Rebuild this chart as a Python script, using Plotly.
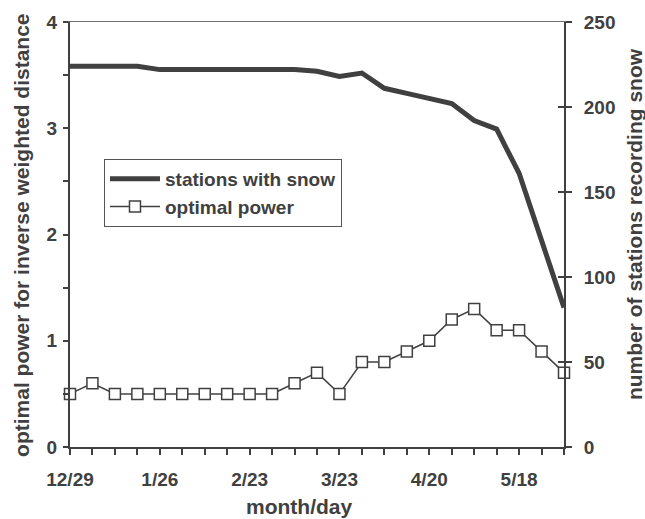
import plotly.graph_objects as go

dates = ["12/29", "1/5", "1/12", "1/19", "1/26", "2/2", "2/9", "2/16", "2/23",
         "3/2", "3/9", "3/16", "3/23", "3/30", "4/6", "4/13", "4/20", "4/27",
         "5/4", "5/11", "5/18", "5/25", "6/1"]
stations_with_snow = [224, 224, 224, 224, 222, 222, 222, 222, 222, 222, 222, 221,
                      218, 220, 211, 208, 205, 202, 192, 187, 161, 121, 82]
optimal_power = [0.5, 0.6, 0.5, 0.5, 0.5, 0.5, 0.5, 0.5, 0.5, 0.5, 0.6, 0.7,
                 0.5, 0.8, 0.8, 0.9, 1.0, 1.2, 1.3, 1.1, 1.1, 0.9, 0.7]
x_labels = ["12/29", "1/26", "2/23", "3/23", "4/20", "5/18"]
left_ticks = [0, 0.5, 1, 1.5, 2, 2.5, 3, 3.5, 4]
left_labels = ["0", "", "1", "", "2", "", "3", "", "4"]
right_ticks = [0, 50, 100, 150, 200, 250]

C = "#404040"
FONT = "Liberation Sans, Arial, sans-serif"

fig = go.Figure()
fig.add_trace(go.Scatter(
    x=dates, y=stations_with_snow, name="stations with snow", yaxis="y2",
    mode="lines", line=dict(color=C, width=5), cliponaxis=False))
fig.add_trace(go.Scatter(
    x=dates, y=optimal_power, name="optimal power", yaxis="y",
    mode="lines+markers", line=dict(color=C, width=1.5),
    marker=dict(symbol="square", size=11, color="white", line=dict(color=C, width=1.5)),
    cliponaxis=False))

tick_font = dict(family=FONT, size=19, color=C, weight="bold")

fig.update_layout(
    width=645, height=519,
    margin=dict(l=70, r=81, t=18, b=72),
    paper_bgcolor="white", plot_bgcolor="white",
    showlegend=True,
    legend=dict(x=0.0688, y=0.678, xanchor="left", yanchor="top",
                bgcolor="white", bordercolor="#555555", borderwidth=1,
                font=dict(family=FONT, size=19, color=C, weight="bold"),
                itemwidth=50, traceorder="normal"),
    xaxis=dict(type="category", range=[0, 22], tickmode="array", tickvals=dates,
               ticktext=[d if d in x_labels else "" for d in dates],
               ticks="outside", ticklen=6, tickwidth=1.5, tickcolor=C,
               showline=True, linecolor=C, linewidth=2, mirror=False,
               showgrid=False, zeroline=False, tickfont=tick_font,
               ticklabelstandoff=8),
    xaxis2=dict(overlaying="x", range=[0, 1], showline=True, side="top",
                linecolor="#707070", linewidth=1, showticklabels=False,
                ticks="", showgrid=False, zeroline=False),
    yaxis=dict(range=[0, 4], tickmode="array", tickvals=left_ticks, ticktext=left_labels,
               ticks="outside", ticklen=5, tickwidth=1.5, tickcolor=C,
               showline=True, linecolor=C, linewidth=2,
               showgrid=False, zeroline=False, tickfont=tick_font,
               ticklabelstandoff=2),
    yaxis2=dict(range=[0, 250], overlaying="y", side="right", tickmode="array",
                tickvals=right_ticks, ticks="outside", ticklen=6, tickwidth=1.5,
                tickcolor=C, showline=True, linecolor=C, linewidth=2,
                showgrid=False, zeroline=False, tickfont=tick_font,
                ticklabelstandoff=8),
    yaxis3=dict(range=[0, 250], overlaying="y", side="right", anchor="x",
                tickmode="array", tickvals=right_ticks, ticks="inside", ticklen=6,
                tickwidth=1.5, tickcolor=C, showline=False, showticklabels=False,
                showgrid=False, zeroline=False),
    annotations=[
        dict(text="optimal power for inverse weighted distance", textangle=-90,
             xref="paper", yref="paper", x=-0.0972, y=0.499, xanchor="center",
             yanchor="middle", showarrow=False,
             font=dict(family=FONT, size=21, color=C, weight="bold")),
        dict(text="number of stations recording snow", textangle=-90,
             xref="paper", yref="paper", x=1.1417, y=0.5245, xanchor="center",
             yanchor="middle", showarrow=False,
             font=dict(family=FONT, size=21, color=C, weight="bold")),
        dict(text="month/day", xref="paper", yref="paper", x=0.4626, y=-0.141,
             xanchor="center", yanchor="middle", showarrow=False,
             font=dict(family=FONT, size=21, color=C, weight="bold")),
    ],
)
# invisible trace to activate top frame axis
fig.add_trace(go.Scatter(x=[0, 1], y=[0, 0], xaxis="x2", yaxis="y", mode="lines",
                         line=dict(width=0), showlegend=False, hoverinfo="skip"))
# invisible trace to activate crossing ticks axis
fig.add_trace(go.Scatter(x=[dates[0]], y=[0], yaxis="y3", mode="lines",
                         line=dict(width=0), showlegend=False, hoverinfo="skip"))

fig.write_html("out.html")
